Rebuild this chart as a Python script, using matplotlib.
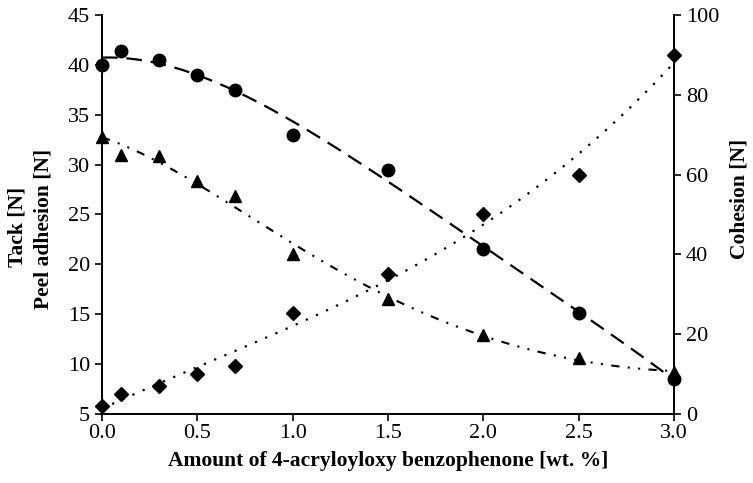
import matplotlib
matplotlib.use("Agg")
import matplotlib.pyplot as plt
import numpy as np

plt.rcParams['font.family'] = ['Liberation Serif', 'DejaVu Serif']

# x values in wt. %
amount = [0.0, 0.1, 0.3, 0.5, 0.7, 1.0, 1.5, 2.0, 2.5, 3.0]
# peel adhesion (circles), left axis
peel = [40.0, 41.4, 40.5, 39.0, 37.5, 33.0, 29.5, 21.5, 15.1, 8.5]
# tack (triangles), left axis
tack = [32.8, 31.0, 30.9, 28.4, 26.9, 21.0, 16.5, 12.9, 10.6, 9.2]
# cohesion (diamonds), right axis
cohesion = [2.0, 5.0, 7.0, 10.0, 12.0, 25.3, 35.0, 50.0, 60.0, 90.0]

xs = np.linspace(0, 3, 300)

fig = plt.figure(figsize=(7.53, 4.83), dpi=100)
ax = fig.add_axes([0.1355, 0.143, 0.7595, 0.826])
ax2 = ax.twinx()

# fitted trend lines
p_peel = np.polyfit(amount, peel, 4)
p_tack = np.polyfit(amount, np.log(tack), 3)
p_coh = np.polyfit(amount, cohesion, 3)

ax.plot(xs, np.polyval(p_peel, xs), color='black', lw=1.6, ls=(0, (7, 4)))
ax.plot(xs, np.exp(np.polyval(p_tack, xs)), color='black', lw=1.5,
        ls=(0, (4, 4, 1, 4, 1, 4)))
ax2.plot(xs, np.polyval(p_coh, xs), color='black', lw=1.6, ls=(0, (1, 4)))

ax.plot(amount, peel, 'o', color='black', ms=9, clip_on=False, zorder=5)
ax.plot(amount, tack, '^', color='black', ms=8.5, clip_on=False, zorder=5)
ax2.plot(amount, cohesion, 'D', color='black', ms=7, clip_on=False, zorder=5)

ax.set_xlim(0, 3)
ax.set_ylim(5, 45)
ax2.set_ylim(0, 100)
ax.set_xticks([0.0, 0.5, 1.0, 1.5, 2.0, 2.5, 3.0])
ax.set_xticklabels(['0.0', '0.5', '1.0', '1.5', '2.0', '2.5', '3.0'])
ax.set_yticks(range(5, 46, 5))
ax2.set_yticks(range(0, 101, 20))

for a in (ax, ax2):
    a.spines['top'].set_visible(False)
    for s in a.spines.values():
        s.set_linewidth(1.3)
    a.tick_params(labelsize=16, width=1.2, length=5, direction='out')
ax.tick_params(axis='x', pad=2)

ax.set_xlabel('Amount of 4-acryloyloxy benzophenone [wt. %]', fontsize=15.5,
              fontweight='bold', labelpad=6)
fig.text(0.023, 0.53, 'Tack [N]', rotation=90, fontsize=15.5, fontweight='bold',
         ha='center', va='center')
fig.text(0.058, 0.525, 'Peel adhesion [N]', rotation=90, fontsize=15.5,
         fontweight='bold', ha='center', va='center')
fig.text(0.982, 0.588, 'Cohesion [N]', rotation=90, fontsize=15.5,
         fontweight='bold', ha='center', va='center')

fig.savefig('out.png', dpi=100)
